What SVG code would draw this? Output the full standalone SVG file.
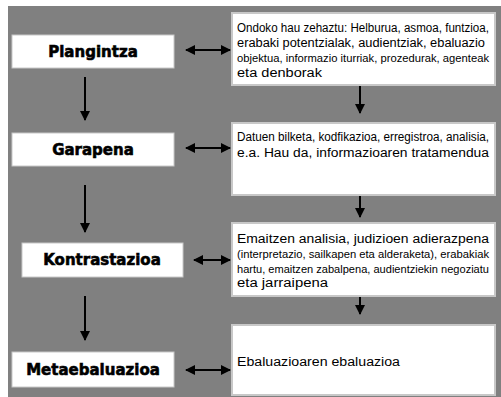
<svg xmlns="http://www.w3.org/2000/svg" width="501" height="397" viewBox="0 0 501 397">
<style>
.bg{fill:#808080}
.lbox{fill:#ffffff;stroke:#c8c8c8;stroke-width:1}
.rbox{fill:#ffffff;stroke:#c8c8c8;stroke-width:2}
.lbl{font-family:"DejaVu Sans",Arial,sans-serif;font-weight:bold;font-size:15px;fill:#000;stroke:#000;stroke-width:0.6;text-anchor:middle}
.txt{font-family:"Liberation Sans",Arial,sans-serif;font-size:12px;fill:#000}
.sm{font-size:10.5px}
.ln{stroke:#000;stroke-width:2;fill:none}
</style>
<defs>
<marker id="ah" viewBox="0 0 10 10" refX="9" refY="5" markerWidth="5" markerHeight="5" orient="auto-start-reverse" markerUnits="strokeWidth">
<path d="M0,0 L10,5 L0,10 z" fill="#000"/>
</marker>
</defs>
<rect class="bg" x="8" y="6" width="493" height="391"/>

<g id="plangintza">
<rect class="lbox" x="12" y="35" width="162" height="33"/>
<text class="lbl" x="93" y="57">Plangintza</text>
</g>
<g id="garapena">
<rect class="lbox" x="12" y="133" width="162" height="33"/>
<text class="lbl" x="93" y="155">Garapena</text>
</g>
<g id="kontrastazioa">
<rect class="lbox" x="22" y="243" width="161" height="34"/>
<text class="lbl" x="102" y="265">Kontrastazioa</text>
</g>
<g id="metaebaluazioa">
<rect class="lbox" x="12" y="352" width="162" height="35"/>
<text class="lbl" x="93" y="375">Metaebaluazioa</text>
</g>

<g id="box1">
<rect class="rbox" x="232" y="13" width="263" height="72"/>
<text class="txt" x="237" y="32" textLength="252" lengthAdjust="spacingAndGlyphs">Ondoko hau zehaztu: Helburua, asmoa, funtzioa,</text>
<text class="txt" x="237" y="47" textLength="248" lengthAdjust="spacingAndGlyphs">erabaki potentzialak, audientziak, ebaluazio</text>
<text class="txt sm" x="237" y="62" textLength="252" lengthAdjust="spacingAndGlyphs">objektua, informazio iturriak, prozedurak, agenteak</text>
<text class="txt" x="237" y="77" textLength="85" lengthAdjust="spacingAndGlyphs">eta denborak</text>
</g>
<g id="box2">
<rect class="rbox" x="232" y="123" width="263" height="72"/>
<text class="txt" x="237" y="141" textLength="252" lengthAdjust="spacingAndGlyphs">Datuen bilketa, kodfikazioa, erregistroa, analisia,</text>
<text class="txt" x="237" y="157" textLength="252" lengthAdjust="spacingAndGlyphs">e.a. Hau da, informazioaren tratamendua</text>
</g>
<g id="box3">
<rect class="rbox" x="232" y="223" width="263" height="73"/>
<text class="txt" x="237" y="243" textLength="252" lengthAdjust="spacingAndGlyphs">Emaitzen analisia, judizioen adierazpena</text>
<text class="txt sm" x="237" y="258" textLength="252" lengthAdjust="spacingAndGlyphs">(interpretazio, sailkapen eta alderaketa), erabakiak</text>
<text class="txt sm" x="237" y="273" textLength="252" lengthAdjust="spacingAndGlyphs">hartu, emaitzen zabalpena, audientziekin negoziatu</text>
<text class="txt" x="237" y="287" textLength="91" lengthAdjust="spacingAndGlyphs">eta jarraipena</text>
</g>
<g id="box4">
<rect class="rbox" x="232" y="325" width="263" height="70"/>
<text class="txt" x="237" y="366" textLength="163" lengthAdjust="spacingAndGlyphs">Ebaluazioaren ebaluazioa</text>
</g>

<g id="connectors">
<line class="ln" x1="85" y1="77" x2="85" y2="120" marker-end="url(#ah)"/>
<line class="ln" x1="85" y1="185" x2="85" y2="232" marker-end="url(#ah)"/>
<line class="ln" x1="85" y1="296" x2="85" y2="340" marker-end="url(#ah)"/>
<line class="ln" x1="186" y1="50" x2="230" y2="50" marker-start="url(#ah)" marker-end="url(#ah)"/>
<line class="ln" x1="186" y1="148" x2="230" y2="148" marker-start="url(#ah)" marker-end="url(#ah)"/>
<line class="ln" x1="194" y1="260" x2="230" y2="260" marker-start="url(#ah)" marker-end="url(#ah)"/>
<line class="ln" x1="186" y1="370" x2="230" y2="370" marker-start="url(#ah)" marker-end="url(#ah)"/>
<line class="ln" x1="360" y1="86" x2="360" y2="113" marker-end="url(#ah)"/>
<line class="ln" x1="360" y1="196" x2="360" y2="217" marker-end="url(#ah)"/>
<line class="ln" x1="360" y1="297" x2="360" y2="314" marker-end="url(#ah)"/>
</g>
</svg>
